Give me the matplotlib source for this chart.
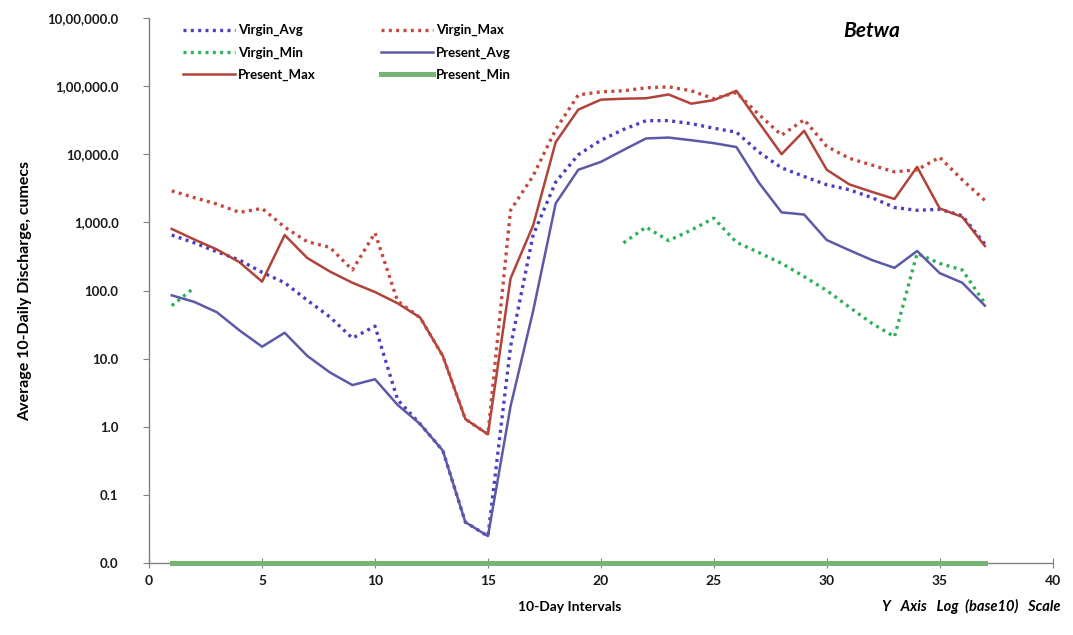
import numpy as np
import matplotlib
matplotlib.use("Agg")
import matplotlib.pyplot as plt
from matplotlib.ticker import FixedLocator, NullLocator

# 10-daily discharge (cumecs), Betwa basin, intervals 1..37
intervals = np.arange(1, 38)

virgin_avg = [650, 500, 370, 280, 185, 130, 72, 41, 20, 30, 2.5, 1.1, 0.45, 0.04, 0.025,
              15, 650, 3900, 9800, 16000, 23000, 31000, 31000, 28000, 24000, 21000, 10700,
              6300, 4700, 3550, 3000, 2300, 1650, 1500, 1550, 1250, 480]
virgin_max = [2900, 2300, 1850, 1400, 1600, 850, 520, 430, 200, 700, 70, 40, 11, 1.3, 0.78,
              1500, 4800, 23000, 74000, 82000, 85000, 94000, 97000, 85000, 65000, 80000,
              38000, 19000, 32000, 13000, 8700, 6900, 5500, 5900, 9000, 4200, 2100]
virgin_min = [60, 110] + [np.nan] * 18 + [500, 850, 540, 770, 1150, 510, 360, 250, 160, 100,
                                          57, 33, 21, 350, 250, 200, 65]
present_avg = [85, 68, 48, 26, 15, 24, 11, 6.3, 4.1, 5.0, 2.1, 1.1, 0.45, 0.04, 0.025,
               2.0, 50, 1900, 5900, 7700, 11500, 17000, 17500, 16000, 14500, 12700, 3800,
               1400, 1300, 550, 390, 280, 215, 380, 180, 130, 60]
present_max = [800, 560, 400, 260, 135, 650, 300, 190, 130, 95, 65, 40, 11, 1.3, 0.78,
               150, 900, 15000, 45000, 63000, 65000, 66000, 75000, 55000, 62000, 85000,
               29000, 10000, 22000, 5900, 3600, 2800, 2200, 6500, 1600, 1200, 450]
present_min = [0] * 37

y_ticks = [0.01, 0.1, 1, 10, 100, 1000, 10000, 100000, 1000000]
y_tick_labels = ["0.0", "0.1", "1.0", "10.0", "100.0", "1,000.0", "10,000.0",
                 "1,00,000.0", "10,00,000.0"]

plt.rcParams['font.family'] = ['Lato', 'DejaVu Sans']

fig = plt.figure(figsize=(10.73, 6.35), dpi=100)
ax = fig.add_axes([0.139, 0.113, 0.842, 0.859])

dot = (0, (0.9, 1.3))
ax.plot(intervals, virgin_avg, color='#4a3fc0', lw=2.4, ls=dot, label='Virgin_Avg')
ax.plot(intervals, virgin_min, color='#2fb05a', lw=2.4, ls=dot, label='Virgin_Min')
ax.plot(intervals, present_max, color='#b0433a', lw=1.8, label='Present_Max')
ax.plot(intervals, virgin_max, color='#c4493f', lw=2.4, ls=dot, label='Virgin_Max')
ax.plot(intervals, present_avg, color='#5c5aa6', lw=1.8, label='Present_Avg')
# zero flows sit on the floor of the log axis
ax.plot(intervals, np.maximum(present_min, y_ticks[0]), color='#74b574', lw=3.6,
        label='Present_Min', clip_on=False, zorder=5)

ax.set_yscale('log')
ax.set_ylim(y_ticks[0], y_ticks[-1])
ax.set_xlim(0, 40)
ax.yaxis.set_major_locator(FixedLocator(y_ticks))
ax.yaxis.set_minor_locator(NullLocator())
ax.set_yticklabels(y_tick_labels)
ax.set_xticks(range(0, 41, 5))

for s in ['top', 'right']:
    ax.spines[s].set_visible(False)
for s in ['left', 'bottom']:
    ax.spines[s].set_color('#808080')
    ax.spines[s].set_linewidth(1.0)
ax.tick_params(axis='y', direction='out', length=4, color='#808080',
               labelsize=9.5, pad=18, labelcolor='#1a1a1a')
ax.tick_params(axis='x', direction='inout', length=7, color='#808080',
               labelsize=10, pad=5, labelcolor='#1a1a1a')
for lab in ax.get_xticklabels() + ax.get_yticklabels():
    lab.set_fontweight('bold')

ax.set_ylabel('Average 10-Daily Discharge, cumecs', fontsize=11.5, fontweight='bold')
ax.yaxis.set_label_coords(-0.13, 0.5)
fig.text(0.531, 0.038, '10-Day Intervals', fontsize=10, fontweight='bold', ha='center')
fig.text(0.988, 0.038, 'Y   Axis   Log  (base10)   Scale', fontsize=10.5,
         fontweight='bold', style='italic', ha='right')
fig.text(0.812, 0.942, 'Betwa', fontsize=15, fontweight='bold', style='italic', ha='center')

leg = ax.legend(ncol=2, loc='upper left', bbox_to_anchor=(0.024, 1.01), frameon=False,
                handlelength=4.0, handletextpad=0.2, columnspacing=4.9,
                labelspacing=0.75, prop={'size': 9.5, 'weight': 'bold'})

fig.savefig('out.png', dpi=100, facecolor='white')
